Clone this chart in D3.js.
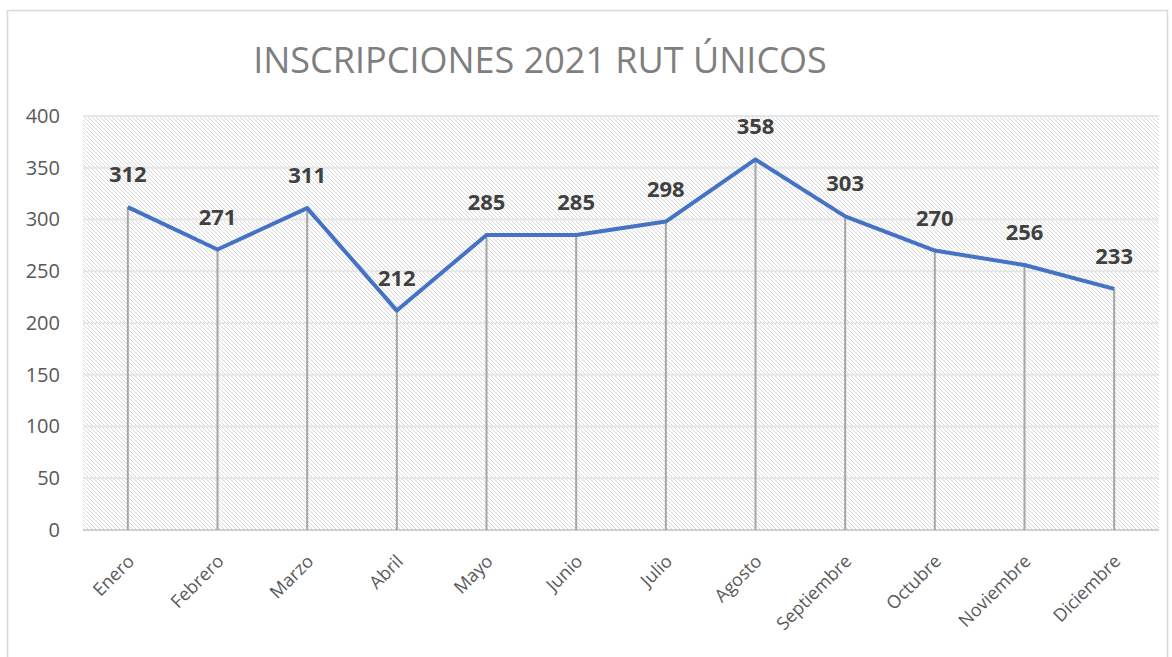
<!DOCTYPE html>
<html>
<head>
<meta charset="utf-8">
<script src="https://cdn.jsdelivr.net/npm/d3@7"></script>
<style>
	body { margin: 0; background: #fff; }
	text { font-family: "Open Sans", "Noto Sans", sans-serif; }
</style>
</head>
<body>
<div id="chart"></div>
<script>
// Month categories and values
let months = ["Enero", "Febrero", "Marzo", "Abril", "Mayo", "Junio", "Julio",
	"Agosto", "Septiembre", "Octubre", "Noviembre", "Diciembre"];
let values = [312, 271, 311, 212, 285, 285, 298, 358, 303, 270, 256, 233];
let yTicks = [0, 50, 100, 150, 200, 250, 300, 350, 400];

let W = 1172, H = 657;
let margin = { top: 116, right: 13, bottom: 127, left: 83 };
let width = W - margin.left - margin.right,
	height = H - margin.top - margin.bottom;

let svg = d3.select("#chart").append("svg")
	.attr("width", W)
	.attr("height", H);

// Hatched pattern for plot background
let defs = svg.append("defs");
let pat = defs.append("pattern")
	.attr("id", "hatch")
	.attr("patternUnits", "userSpaceOnUse")
	.attr("width", 4)
	.attr("height", 4);
pat.append("path")
	.attr("d", "M-1,-1 L5,5 M-1,3 L1,5 M3,-1 L5,1")
	.attr("stroke", "#d8d8d8")
	.attr("stroke-width", 1);

// Outer frame
svg.append("rect")
	.attr("x", 7.5).attr("y", 10.5)
	.attr("width", 1160).attr("height", 660)
	.attr("fill", "none")
	.attr("stroke", "#d9d9d9")
	.attr("stroke-width", 1.5);

// Title
svg.append("text")
	.attr("x", 540)
	.attr("y", 73)
	.attr("text-anchor", "middle")
	.style("font-size", "36px")
	.style("fill", "#7f7f7f")
	.text("INSCRIPCIONES 2021 RUT ÚNICOS");

let g = svg.append("g")
	.attr("transform", "translate(" + margin.left + "," + margin.top + ")");

let x = d3.scaleBand()
	.domain(months)
	.range([0, width]);

let y = d3.scaleLinear()
	.domain([0, 400])
	.range([height, 0]);

g.append("rect")
	.attr("width", width)
	.attr("height", height)
	.attr("fill", "url(#hatch)");

// Horizontal gridlines
g.selectAll(".grid")
	.data(yTicks)
	.enter().append("line")
	.attr("x1", 0).attr("x2", width)
	.attr("y1", d => y(d)).attr("y2", d => y(d))
	.attr("stroke", d => d === 0 ? "#d0d0d0" : "#e6e6e6")
	.attr("stroke-width", 2);

// Y axis labels
let yAxis = d3.axisLeft(y).tickValues(yTicks).tickSize(0).tickPadding(23);
g.append("g")
	.attr("class", "y-axis")
	.call(yAxis)
	.call(a => a.select(".domain").remove())
	.selectAll("text")
	.style("font-size", "20px")
	.style("fill", "#595959");

let cx = d => x(d) + x.bandwidth() / 2;

// Drop lines
g.selectAll(".drop")
	.data(months)
	.enter().append("line")
	.attr("x1", cx).attr("x2", cx)
	.attr("y1", (d, i) => y(values[i]))
	.attr("y2", height)
	.attr("stroke", "#a6a6a6")
	.attr("stroke-width", 2);

// Series line
let line = d3.line()
	.x((d, i) => cx(months[i]))
	.y(d => y(d));

g.append("path")
	.datum(values)
	.attr("d", line)
	.attr("fill", "none")
	.attr("stroke", "#4472c4")
	.attr("stroke-width", 4)
	.attr("stroke-linejoin", "round");

// Data labels
g.selectAll(".label")
	.data(values)
	.enter().append("text")
	.attr("x", (d, i) => cx(months[i]))
	.attr("y", d => y(d) - 25)
	.attr("text-anchor", "middle")
	.style("font-size", "22px")
	.style("font-weight", "bold")
	.style("fill", "#404040")
	.text(d => d);

// X axis labels
g.selectAll(".xlab")
	.data(months)
	.enter().append("text")
	.attr("transform", d => "translate(" + (cx(d) + 3) + "," + (height + 28) + ") rotate(-45)")
	.attr("text-anchor", "end")
	.attr("dy", "0.35em")
	.style("font-size", "18px")
	.style("fill", "#595959")
	.text(d => d);
</script>
</body>
</html>
